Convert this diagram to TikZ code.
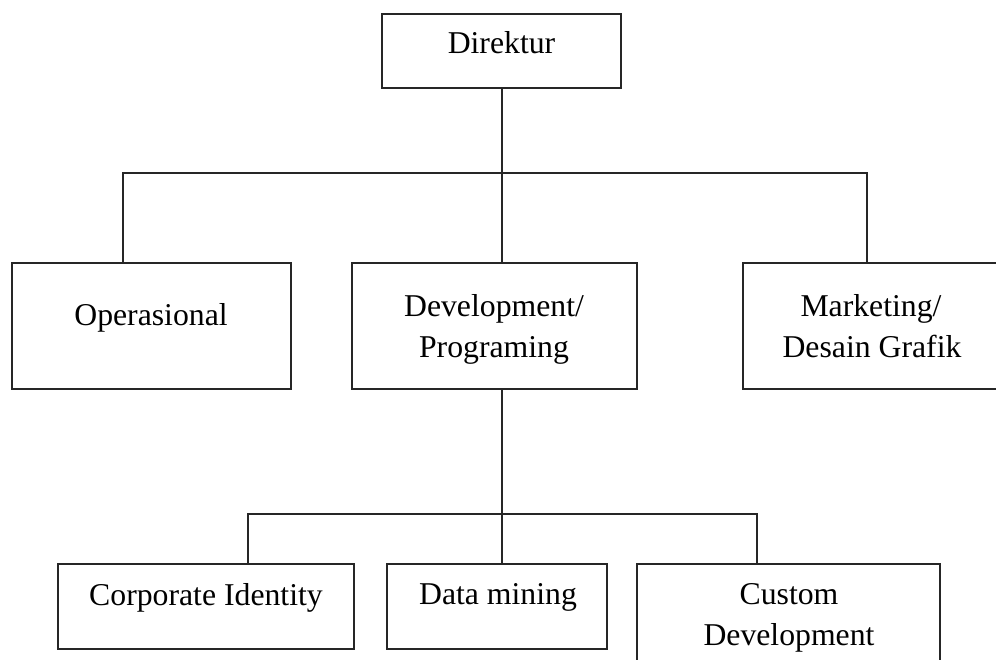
\documentclass[tikz,border=0pt]{standalone}
\usepackage{fontspec}
\setmainfont{Liberation Serif}
\begin{document}
\begin{tikzpicture}[x=0.75pt,y=-0.75pt,
  box/.style={draw=black!85, line width=1pt, inner sep=0pt, fill=none},
  lbl/.style={anchor=base, inner sep=0pt, font=\fontsize{23.8}{30}\selectfont},
  wire/.style={draw=black!85, line width=1pt}]
\useasboundingbox (0,0) rectangle (996,660);
\clip (0,0) rectangle (996,660);
% boxes
\node[box, minimum width=179.25pt, minimum height=55.5pt] (dir) at (501.5,51) {};
\node[box, minimum width=209.25pt, minimum height=94.5pt] (op) at (151.5,326) {};
\node[box, minimum width=213.75pt, minimum height=94.5pt] (dev) at (494.5,326) {};
\node[box, minimum width=195pt, minimum height=94.5pt] (mk) at (873,326) {};
\node[box, minimum width=222pt, minimum height=63.75pt] (ci) at (206,606.5) {};
\node[box, minimum width=165pt, minimum height=63.75pt] (dm) at (497,606.5) {};
\node[box, minimum width=227.25pt, minimum height=102pt] (cu) at (788.5,632) {};
% labels
\node[lbl] (tdir) at (501.5,54) {Direktur};
\node[lbl] (top) at (151,325) {Operasional};
\node[lbl] (tdev1) at (494,316) {Development/};
\node[lbl] (tdev2) at (494,357) {Programing};
\node[lbl] (tmk1) at (871,316) {Marketing/};
\node[lbl] (tmk2) at (872,357) {Desain Grafik};
\node[lbl] (tci) at (206,605) {Corporate Identity};
\node[lbl] (tdm) at (498,604) {Data mining};
\node[lbl] (tcu1) at (789,604) {Custom};
\node[lbl] (tcu2) at (789,645) {Development};
% connectors
\coordinate (j1) at (502,173);
\coordinate (j1L) at (123,173);
\coordinate (j1R) at (867,173);
\draw[wire] (j1 |- dir.south) -- (j1);
\draw[wire] (j1L |- op.north) -- (j1L) -- (j1R) -- (j1R |- mk.north);
\draw[wire] (j1) -- (j1 |- dev.north);
\coordinate (j2) at (502,514);
\coordinate (j2L) at (248,514);
\coordinate (j2R) at (757,514);
\draw[wire] (j2 |- dev.south) -- (j2);
\draw[wire] (j2L |- ci.north) -- (j2L) -- (j2R) -- (j2R |- cu.north);
\draw[wire] (j2) -- (j2 |- dm.north);
\end{tikzpicture}
\end{document}
